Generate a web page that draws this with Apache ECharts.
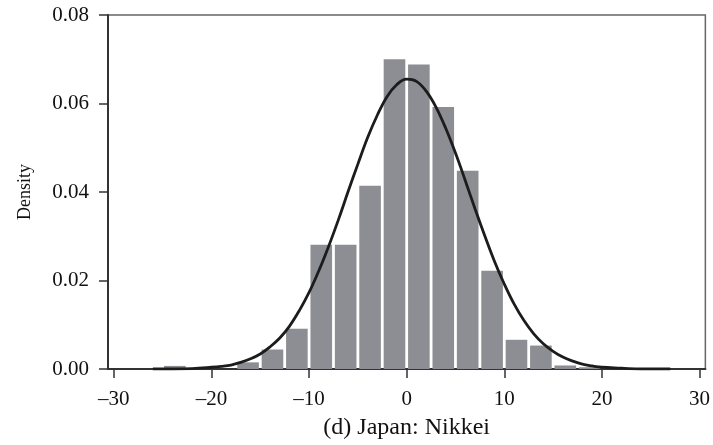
<!DOCTYPE html>
<html>
<head>
<meta charset="utf-8">
<script src="https://cdn.jsdelivr.net/npm/echarts@6/dist/echarts.min.js"></script>
<style>
html,body{margin:0;padding:0;background:#fff;}
#chart{width:713px;height:445px;}
</style>
</head>
<body>
<div id="chart"></div>
<script>
// Histogram bins (left edge of each 2.5-wide bin) and densities
const binWidth = 2.5;
const binStarts = [-25, -17.5, -15, -12.5, -10, -7.5, -5, -2.5, 0, 2.5, 5, 7.5, 10, 12.5, 15, 17.5, 20];
const binDensity = [0.0007, 0.0015, 0.0044, 0.0091, 0.0281, 0.0281, 0.0414, 0.0700, 0.0688, 0.0592, 0.0448, 0.0222, 0.0066, 0.0053, 0.0008, 0.0004, 0.0003];

// Fitted density curve
const curveX = [-26, -24, -22, -20, -19, -18, -17, -16, -15, -14, -13, -12, -11, -10, -9, -8, -7, -6, -5, -4, -3, -2, -1, 0, 1, 2, 3, 4, 5, 6, 7, 8, 9, 10, 11, 12, 13, 14, 15, 16, 17, 18, 19, 20, 22, 24, 27];
const curveY = [0.0000, 0.0000, 0.0001, 0.0004, 0.0006, 0.0009, 0.0015, 0.0023, 0.0034, 0.0050, 0.0070, 0.0097, 0.0132, 0.0173, 0.0222, 0.0277, 0.0337, 0.0401, 0.0463, 0.0523, 0.0574, 0.0616, 0.0643, 0.0655, 0.0650, 0.0628, 0.0592, 0.0544, 0.0488, 0.0426, 0.0362, 0.0301, 0.0243, 0.0192, 0.0147, 0.0110, 0.0080, 0.0057, 0.0040, 0.0027, 0.0018, 0.0011, 0.0007, 0.0004, 0.0002, 0.0000, 0.0000];

// Tick labels
const xTicks = [-30, -20, -10, 0, 10, 20, 30];
const xName = '(d) Japan: Nikkei';
const yName = 'Density';

const font = 'Liberation Serif';
const chart = echarts.init(document.getElementById('chart'));

const barData = binStarts.map((s, i) => [s, binDensity[i]]);
const curveData = curveX.map((x, i) => [x, curveY[i]]);

chart.setOption({
  animation: false,
  grid: {left: 108, right: 5, top: 15, bottom: 71, show: true, borderColor: '#666', borderWidth: 1.5, backgroundColor: 'transparent'},
  xAxis: {
    type: 'value', min: -30.6, max: 30.6,
    name: xName, nameLocation: 'middle', nameGap: 47,
    nameTextStyle: {fontFamily: font, fontSize: 24, color: '#111'},
    axisLine: {show: true, onZero: false, lineStyle: {color: '#333', width: 2}},
    axisTick: {show: true, length: 9, customValues: xTicks, lineStyle: {color: '#333', width: 1.5}},
    axisLabel: {customValues: xTicks, margin: 20, fontFamily: font, fontSize: 21, color: '#111',
      formatter: v => v < 0 ? '\u2013' + Math.abs(v) : String(v)},
    splitLine: {show: false}
  },
  yAxis: {
    type: 'value', min: 0, max: 0.08, interval: 0.02,
    name: yName, nameLocation: 'middle', nameGap: 74,
    nameTextStyle: {fontFamily: font, fontSize: 18, color: '#111'},
    axisLine: {show: true, onZero: false, lineStyle: {color: '#333', width: 2}},
    axisTick: {show: true, length: 9, lineStyle: {color: '#333', width: 1.5}},
    axisLabel: {margin: 19, fontFamily: font, fontSize: 21, color: '#111', formatter: v => v.toFixed(2)},
    splitLine: {show: false}
  },
  series: [
    {
      type: 'custom',
      data: barData,
      clip: true,
      renderItem: function (params, api) {
        const s = api.value(0), h = api.value(1);
        const p0 = api.coord([s, h]);
        const p1 = api.coord([s + binWidth, 0]);
        const gap = 1.4;
        return {
          type: 'rect',
          shape: {x: p0[0] + gap, y: p0[1], width: p1[0] - p0[0] - 2 * gap, height: p1[1] - p0[1]},
          style: {fill: '#8d8e93'}
        };
      },
      z: 2
    },
    {
      type: 'line',
      data: curveData,
      smooth: 0.4,
      showSymbol: false,
      lineStyle: {color: '#1c1c1c', width: 2.8},
      z: 3
    }
  ]
});
</script>
</body>
</html>
